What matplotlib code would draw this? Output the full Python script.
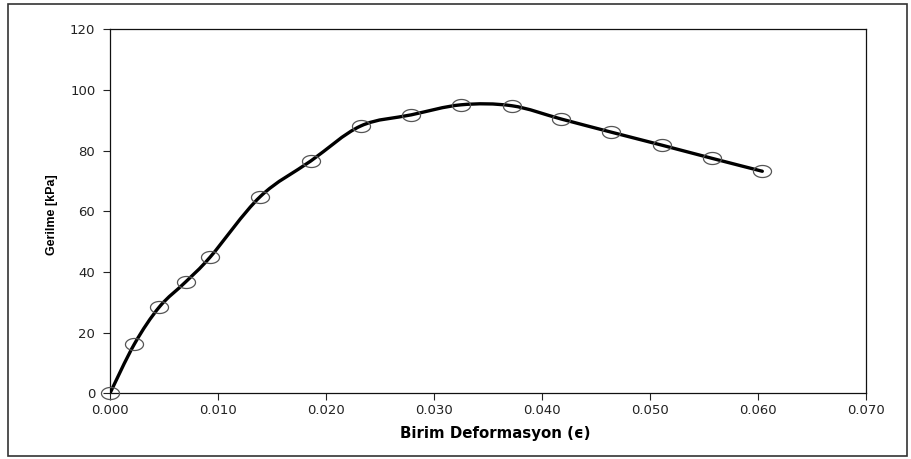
"""Gerilme - birim deformasyon eğrisi (serbest basınç deneyi)."""

import numpy as np
import matplotlib
matplotlib.use("Agg")
import matplotlib.pyplot as plt
from matplotlib.path import Path
from matplotlib.patches import PathPatch, Rectangle

# okunan değerler
birim_def = [0.0, 0.00227, 0.00458, 0.0070, 0.0093, 0.0139, 0.0186, 0.0232,
             0.0279, 0.0325, 0.0372, 0.0418, 0.0464, 0.0511, 0.0557, 0.0604]
gerilme = [0.0, 16.3, 28.5, 36.7, 45.0, 64.8, 76.6, 88.1,
           91.8, 95.1, 94.8, 90.4, 86.1, 81.8, 77.5, 73.2]
x_ticks = [0.0, 0.01, 0.02, 0.03, 0.04, 0.05, 0.06, 0.07]
y_ticks = [0, 20, 40, 60, 80, 100, 120]


def _egri(x, y):
    # Excel tarzı yumuşatılmış çizgi: noktalar arası kübik Bezier
    p = np.column_stack([x, y])
    n = len(p)
    verts = [p[0]]
    codes = [Path.MOVETO]
    for i in range(n - 1):
        p0, p1 = p[max(i - 1, 0)], p[i]
        p2, p3 = p[i + 1], p[min(i + 2, n - 1)]
        verts += [p1 + (p2 - p0) / 6, p2 - (p3 - p1) / 6, p2]
        codes += [Path.CURVE4] * 3
    return Path(verts, codes)


fig = plt.figure(figsize=(9.11, 4.59), dpi=100)
ax = fig.add_axes([0.1207, 0.1431, 0.8299, 0.7931])

ax.add_patch(PathPatch(_egri(birim_def, gerilme), fill=False, lw=2.4,
                       ec="black", capstyle="round", zorder=3))

t = np.linspace(0, 2 * np.pi, 60)
elips = Path(np.column_stack([1.5 * np.cos(t), np.sin(t)]))
ax.plot(birim_def, gerilme, ls="none", marker=elips, ms=13,
        mfc="none", mec="#555555", mew=0.9, zorder=4, clip_on=False)

ax.set_xlim(0, 0.07)
ax.set_ylim(0, 120)
ax.set_xticks(x_ticks)
ax.set_xticklabels([f"{v:.3f}" for v in x_ticks])
ax.set_yticks(y_ticks)
ax.tick_params(direction="out", length=5, width=0.8, labelsize=9.5,
               colors="#222222")
ax.tick_params(axis="y", pad=5.5)
ax.tick_params(axis="x", pad=3)
for sp in ax.spines.values():
    sp.set_linewidth(0.9)
    sp.set_color("#111111")

ax.set_xlabel("Birim Deformasyon (ϵ)", fontsize=10.8, fontweight="bold",
              family=["DejaVu Sans"])
ax.xaxis.set_label_coords(0.51, -0.09)
ax.set_ylabel("Gerilme [kPa]", fontsize=9, fontweight="bold",
              family=["Liberation Sans", "DejaVu Sans"])
ax.yaxis.set_label_coords(-0.069, 0.49)

# çerçeve
fig.add_artist(Rectangle((8 / 911, 3 / 459), 899 / 911, 452 / 459,
                         transform=fig.transFigure, fill=False,
                         ec="#333333", lw=1.2))

fig.savefig("out.png", dpi=100)
